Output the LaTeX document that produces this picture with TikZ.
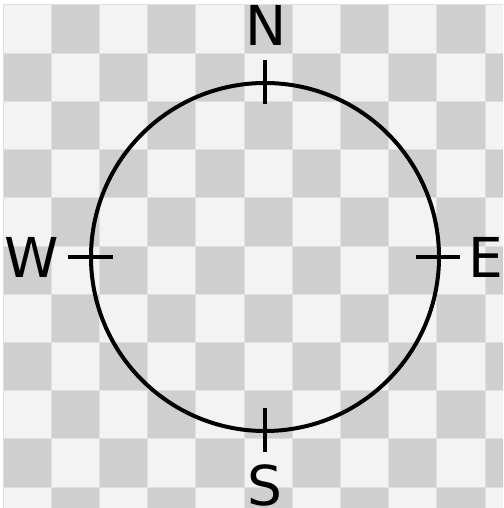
\documentclass[tikz,border=0pt]{standalone}
\usepackage{fontspec}
\setmainfont{DejaVu Sans}
\definecolor{lightsq}{HTML}{F3F3F3}
\definecolor{darksq}{HTML}{CFCFCF}
\definecolor{gridln}{HTML}{E0E0E0}
\tikzset{
  ring/.style={line width=4pt, draw=black},
  tick/.style={line width=4pt, draw=black},
  dirlabel/.style={inner sep=0pt, font=\fontsize{55}{55}\selectfont}
}
\begin{document}
\begin{tikzpicture}[x=1pt,y=-1pt]
\useasboundingbox (0,0) rectangle (503,508);
\fill[white] (0,0) rectangle (503,508);
\begin{scope}
\clip (3,5) rectangle (503,508);
\fill[lightsq] (3,5) rectangle (503,508);
\foreach \i in {0,...,10}{
  \foreach \j in {0,...,10}{
    \pgfmathtruncatemacro{\parity}{mod(\i+\j,2)}
    \ifnum\parity=1
      \fill[darksq] ({3+48.2*\i},{5+48.2*\j}) rectangle ++(48.2,48.2);
    \fi
  }
}
\foreach \i in {0,...,10}{
  \draw[gridln, line width=1pt] ({3+48.2*\i},5) -- ({3+48.2*\i},508);
  \draw[gridln, line width=1pt] (3,{5+48.2*\i}) -- (503,{5+48.2*\i});
}
\end{scope}
\coordinate (c) at (265,257);
\draw[ring] (c) circle (174);
\draw[tick] (265,60) -- (265,104);
\draw[tick] (265,408) -- (265,452);
\draw[tick] (68,257) -- (113,257);
\draw[tick] (416,257) -- (460,257);
\node[dirlabel] (N) at (266.5,25) {N};
\node[dirlabel] (S) at (264.5,485) {S};
\node[dirlabel] (W) at (31.5,257) {W};
\node[dirlabel] (E) at (485.5,257) {E};
\end{tikzpicture}
\end{document}
